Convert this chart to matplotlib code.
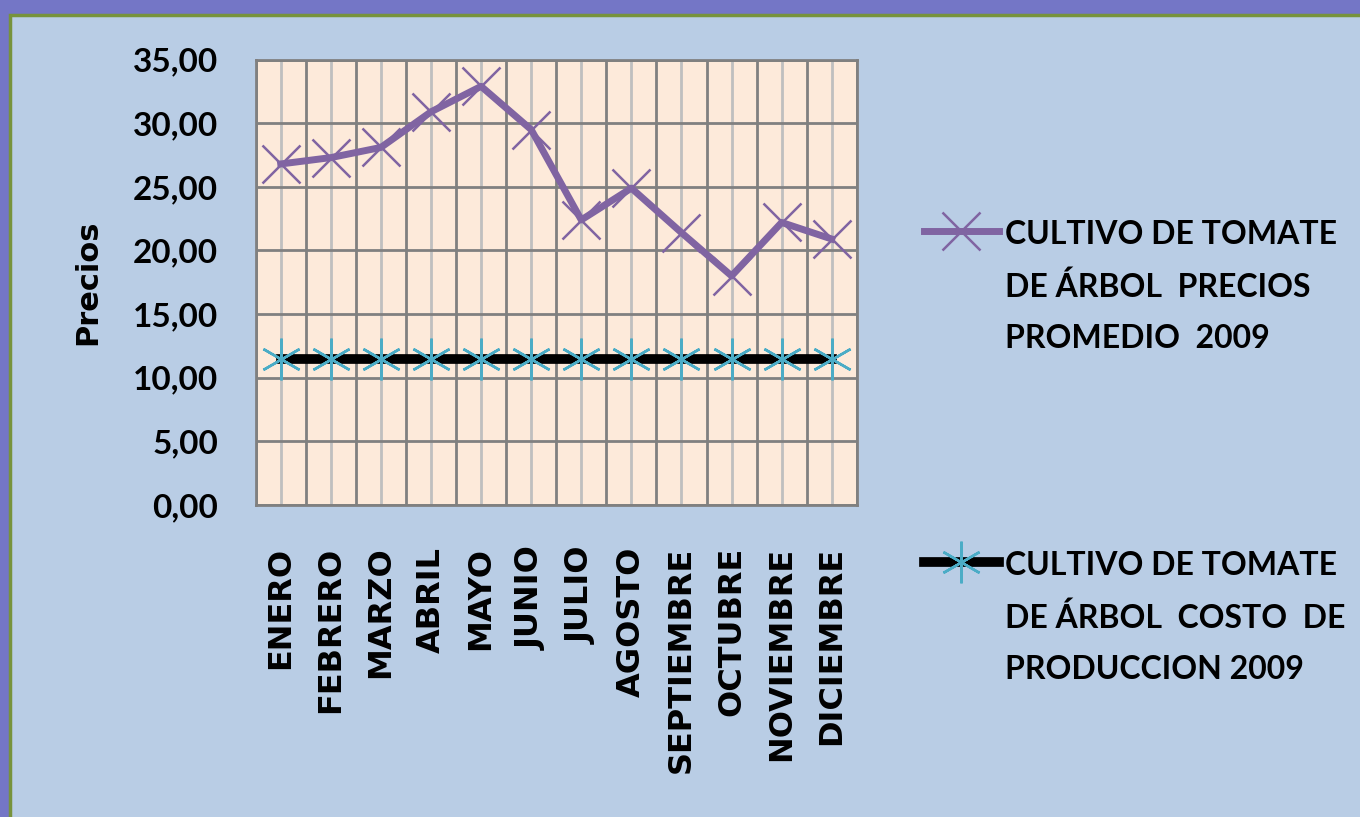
import matplotlib.pyplot as plt
from matplotlib.patches import Rectangle
from matplotlib.ticker import FuncFormatter, MultipleLocator

meses = ['ENERO', 'FEBRERO', 'MARZO', 'ABRIL', 'MAYO', 'JUNIO', 'JULIO',
         'AGOSTO', 'SEPTIEMBRE', 'OCTUBRE', 'NOVIEMBRE', 'DICIEMBRE']
precios = [26.8, 27.3, 28.1, 30.9, 32.9, 29.5, 22.4, 24.9, 21.4, 18.0, 22.2, 20.9]
costo = [11.5] * 12

lbl_precios = 'CULTIVO DE TOMATE\nDE ÁRBOL  PRECIOS\nPROMEDIO  2009'
lbl_costo = 'CULTIVO DE TOMATE\nDE ÁRBOL  COSTO  DE\nPRODUCCION 2009'

plt.rcParams['font.family'] = ['Lato', 'DejaVu Sans']
plt.rcParams['font.weight'] = 'bold'

fig = plt.figure(figsize=(13.6, 8.17), dpi=100)
fig.patch.set_facecolor('#7476c6')
# area del grafico (fondo azul claro con borde verde)
fig.add_artist(Rectangle((10 / 1360, -0.01), 1.02, 1 - 15 / 817 + 0.01,
                         transform=fig.transFigure, facecolor='#b9cde5',
                         edgecolor='#77933c', lw=2.5, zorder=-10))

ax = fig.add_axes([0.188, 0.382, 0.442, 0.545])
ax.set_facecolor('#fdeada')

x = range(len(meses))
ax.plot(x, precios, color='#8064a2', lw=5, marker='x', ms=28, mew=1.8,
        label=lbl_precios, zorder=4)
ax.plot(x, costo, color='black', lw=7, marker=(6, 2, 0), ms=30, mew=1.8,
        mec='#4bacc6', label=lbl_costo, zorder=3)

ax.set_xlim(-0.5, 11.5)
ax.set_ylim(0, 35)
ax.set_xticks(list(x))
ax.set_xticklabels(meses, rotation=90, fontsize=23, fontweight='bold',
                   family='DejaVu Sans')
ax.xaxis.set_minor_locator(MultipleLocator(1, offset=0.5))
ax.yaxis.set_major_locator(MultipleLocator(5))
ax.yaxis.set_major_formatter(FuncFormatter(lambda v, p: f'{v:.2f}'.replace('.', ',')))
ax.tick_params(axis='y', labelsize=24, length=0, pad=27)
ax.tick_params(axis='x', length=0, pad=30)
ax.tick_params(which='minor', length=0)

ax.grid(which='major', axis='x', color='#bfbfbf', lw=2)
ax.grid(which='minor', axis='x', color='#808080', lw=2)
ax.grid(which='major', axis='y', color='#808080', lw=2)
ax.set_axisbelow(True)
for s in ax.spines.values():
    s.set_color('#808080')
    s.set_linewidth(2)

ax.set_ylabel('Precios', fontsize=22, fontweight='bold', family='DejaVu Sans',
              labelpad=22)

leg = ax.legend(loc='upper left', bbox_to_anchor=(895 / 1360, 1 - 191 / 817),
                bbox_transform=fig.transFigure, frameon=False, fontsize=23,
                handlelength=2.35, handletextpad=0.2, labelspacing=6.2)
for t in leg.get_texts():
    t.set_linespacing(1.9)
# simbolo de la leyenda a la altura de la primera linea
for col in leg._legend_handle_box.get_children():
    for row in col.get_children():
        row.align = 'top'

fig.savefig('out.png', dpi=100, facecolor=fig.get_facecolor())
